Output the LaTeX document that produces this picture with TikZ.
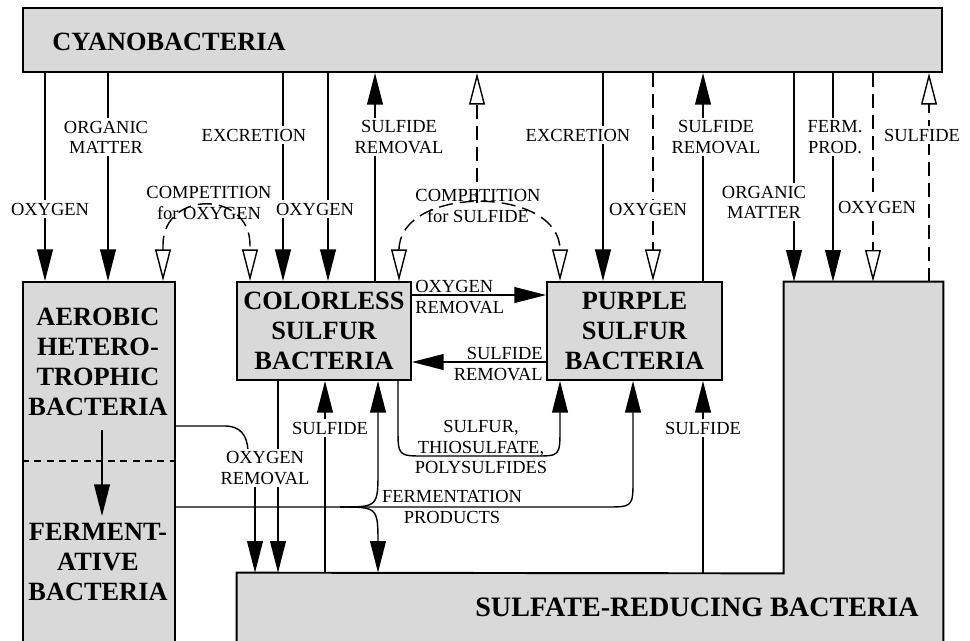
\documentclass[tikz,border=0pt]{standalone}
\usepackage{fontspec}
\setmainfont{Liberation Serif}
\usepackage{tikz}
\usetikzlibrary{positioning, arrows.meta, fit, calc}
\definecolor{boxgray}{gray}{0.85}

\begin{document}
\begin{tikzpicture}[
  x=0.02cm, y=-0.02cm,
  ftip/.tip={Triangle[length=18pt, width=9pt]},
  otip/.tip={Triangle[length=18pt, width=9pt, fill=white]},
  box/.style={rectangle, draw=black, fill=boxgray, line width=1.1pt, inner sep=0pt},
  boxtxt/.style={font=\fontsize{15}{17}\selectfont\bfseries, align=center, inner sep=0pt},
  lbl/.style={font=\fontsize{10.5}{11.5}\selectfont, align=center, inner sep=1.5pt},
  lblw/.style={lbl, fill=white},
  flow/.style={line width=0.8pt, -ftip},
  comp/.style={line width=0.8pt, dash pattern=on 8pt off 4pt, -otip},
  compboth/.style={comp, otip-otip},
]
\useasboundingbox (0,0) rectangle (970,640);
\clip (0,0) rectangle (970,640);

% Boxes
\node[box, fit={(23,8) (942,72)}] (cyano) {};
\node[box, fit={(23,282) (175,650)}] (aero) {};
\node[box, fit={(237,282) (411,380)}] (col) {};
\node[box, fit={(547,282) (722,380)}] (pur) {};
\node[inner sep=0pt, fit={(237,573) (943,650)}] (srb) {};
\node[inner sep=0pt, fit={(784,282) (943,573)}] (srbR) {};
\draw[fill=boxgray, line width=1.1pt]
  (srb.north west) -- (srbR.south west) -- (srbR.north west) -- (srbR.north east)
  -- (srb.south east) -- (srb.south west) -- cycle;
\draw[line width=0.8pt, dash pattern=on 4pt off 3pt]
  (aero.west |- 0,461) -- (aero.east |- 0,461);

\node[boxtxt, anchor=west] (cyanotxt) at (52,42) {CYANOBACTERIA};
\node[boxtxt] (aerotxt) at (98,362) {AEROBIC\\HETERO-\\TROPHIC\\BACTERIA};
\node[boxtxt] (fermtxt) at (98,562) {FERMENT-\\ATIVE\\BACTERIA};
\node[boxtxt] (coltxt) at (col) {COLORLESS\\SULFUR\\BACTERIA};
\node[boxtxt] (purtxt) at (pur) {PURPLE\\SULFUR\\BACTERIA};
\node[boxtxt, font=\fontsize{16}{17}\selectfont\bfseries] (srbtxt) at (697,607) {SULFATE-REDUCING BACTERIA};

% Aerobic to fermentative
\coordinate (abeg) at (102,430);
\coordinate (aend) at (102,516);
\draw[flow] (abeg) -- (aend);

% Cyanobacteria to aerobic
\draw[flow] (cyano.south -| 45,0) -- (aero.north -| 45,0);
\node[lblw] at (50,209) {OXYGEN};
\draw[flow] (cyano.south -| 108,0) -- (aero.north -| 108,0);
\node[lblw] at (106,137) {ORGANIC\\MATTER};

% Competition for oxygen
\draw[compboth] (aero.north -| 163,0) -- (163,245)
  .. controls (163,190) and (250,190) .. (250,245) -- (col.north -| 250,0);
\node[lbl] (compox) at (209,203) {COMPETITION\\for OXYGEN};

% Cyanobacteria and colorless sulfur bacteria
\draw[flow] (cyano.south -| 283,0) -- (col.north -| 283,0);
\node[lblw] at (254,135) {EXCRETION};
\draw[flow] (cyano.south -| 328,0) -- (col.north -| 328,0);
\node[lblw] at (315,209) {OXYGEN};
\draw[flow] (col.north -| 375,0) -- (cyano.south -| 375,0);
\node[lblw] at (399,137) {SULFIDE\\REMOVAL};

% Competition for sulfide
\draw[compboth] (col.north -| 399,0) -- (399,250)
  .. controls (399,185) and (560,185) .. (560,250) -- (pur.north -| 560,0);
\draw[comp] (477,203) -- (cyano.south -| 477,0);
\node[lbl] (compsu) at (478,206) {COMPETITION\\for SULFIDE};

% Cyanobacteria and purple sulfur bacteria
\draw[flow] (cyano.south -| 603,0) -- (pur.north -| 603,0);
\node[lblw] at (578,135) {EXCRETION};
\draw[comp] (cyano.south -| 653,0) -- (pur.north -| 653,0);
\node[lblw] at (648,209) {OXYGEN};
\draw[flow] (pur.north -| 703,0) -- (cyano.south -| 703,0);
\node[lblw] at (716,137) {SULFIDE\\REMOVAL};

% Cyanobacteria and sulfate reducers
\draw[flow] (cyano.south -| 794,0) -- (srbR.north -| 794,0);
\node[lblw] at (764,202) {ORGANIC\\MATTER};
\draw[flow] (cyano.south -| 833,0) -- (srbR.north -| 833,0);
\node[lblw] at (835,137) {FERM.\\PROD.};
\draw[comp] (cyano.south -| 873,0) -- (srbR.north -| 873,0);
\node[lblw] at (877,207) {OXYGEN};
\draw[comp] (srbR.north -| 929,0) -- (cyano.south -| 929,0);
\node[lblw] at (922,135) {SULFIDE};

% Colorless <-> purple
\draw[flow] (col.east |- 0,295) -- (pur.west |- 0,295);
\node[lbl, anchor=west, align=left, inner sep=0pt] at (415,297) {OXYGEN\\REMOVAL};
\draw[flow] (pur.west |- 0,362) -- (col.east |- 0,362);
\node[lbl, anchor=east, align=right, inner sep=0pt] at (543,364) {SULFIDE\\REMOVAL};

% Oxygen removal to sulfate reducers
\draw[line width=0.8pt] (aero.east |- 0,426) -- (225,426)
  .. controls (240,426) and (247,435) .. (248,450);
\draw[flow] (255,480) -- (srb.north -| 255,0);
\draw[flow] (col.south -| 278,0) -- (srb.north -| 278,0);
\node[lblw] (oxrl) at (265,468) {OXYGEN\\REMOVAL};

% Sulfide from sulfate reducers
\draw[flow] (srb.north -| 325,0) -- (col.south -| 325,0);
\node[lblw] at (330,428) {SULFIDE};
\draw[flow] (srb.north -| 703,0) -- (pur.south -| 703,0);
\node[lblw] at (703,428) {SULFIDE};

% Fermentation products
\coordinate (fork) at (340,507);
\draw[flow] (aero.east |- 0,507) -- (605,507)
  .. controls (633,507) .. (633,479) -- (pur.south -| 633,0);
\draw[flow] (fork) .. controls (378,507) .. (378,470) -- (col.south -| 378,0);
\draw[flow] (fork) .. controls (378,507) .. (378,545) -- (srb.north -| 378,0);
\node[lbl, inner sep=0pt] at (452,507) {FERMENTATION\\PRODUCTS};

% Sulfur compounds
\draw[flow] (col.south -| 398,0) -- (398,428)
  .. controls (398,456) .. (425,456) -- (535,456)
  .. controls (560,456) .. (560,428) -- (pur.south -| 560,0);
\node[lbl, inner sep=0pt] at (481,447) {SULFUR,\\THIOSULFATE,\\POLYSULFIDES};

\end{tikzpicture}
\end{document}
